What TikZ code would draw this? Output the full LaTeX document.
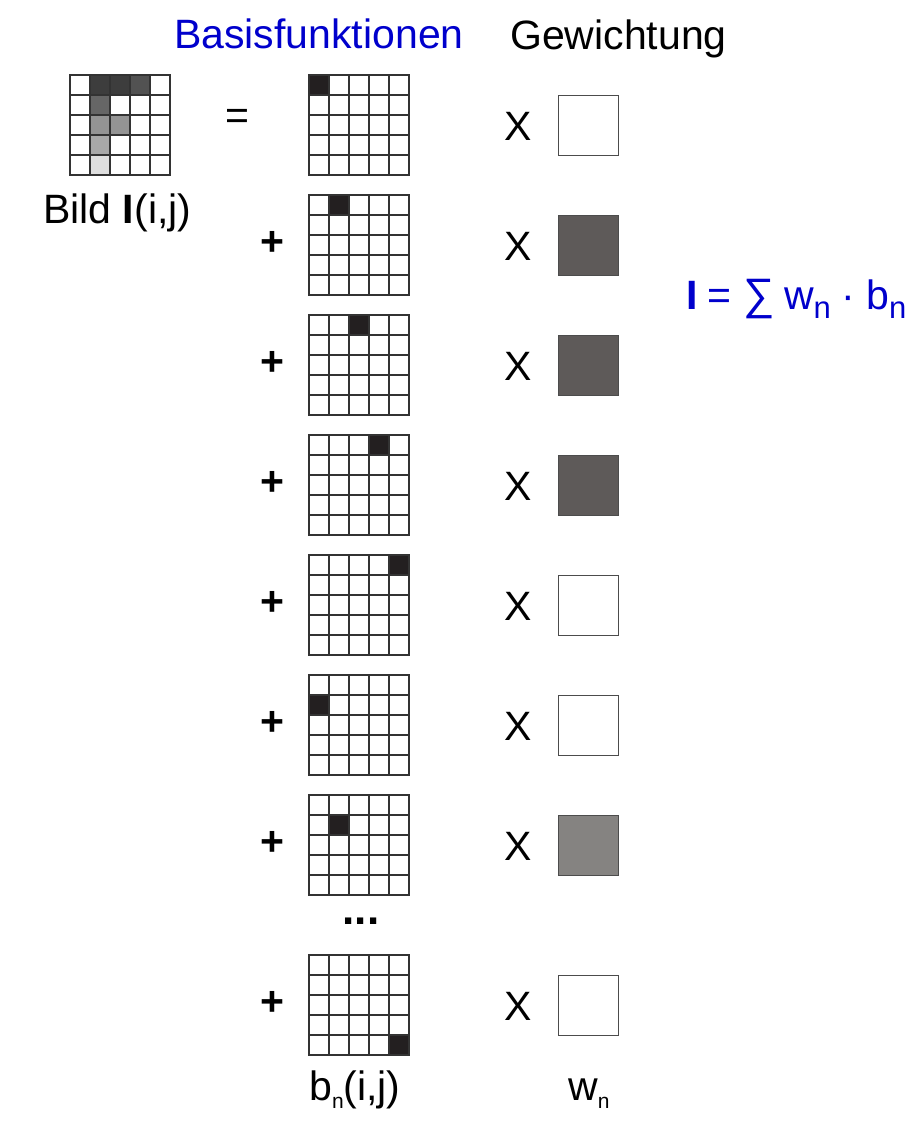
\documentclass[tikz,border=0pt]{standalone}
\usepackage{fontspec}
\setmainfont{Liberation Sans}
\usetikzlibrary{calc}

\definecolor{basisblue}{RGB}{0,0,204}
\definecolor{cellblack}{RGB}{35,31,32}
\definecolor{weightdark}{RGB}{94,90,89}
\definecolor{weightmid}{RGB}{133,131,129}

\tikzset{
	cell/.style={draw=black!80,line width=1.3pt},
	weight/.style={draw=black!70,line width=1pt},
	label/.style={inner sep=0pt,font=\fontsize{41}{49}\selectfont},
	sign/.style={inner sep=0pt,font=\fontsize{41}{49}\selectfont}
}

\begin{document}
\begin{tikzpicture}[x=1pt,y=-1pt]
	\useasboundingbox (0,0) rectangle (920,1128);
	
	%headings
	\node[label,anchor=base west,text=basisblue] (basis) at (174,48) {Basisfunktionen};
	\node[label,anchor=base west] (gewicht) at (510,49) {Gewichtung};
	
	%image I(i,j)
	\fill[black!76] (90,75) rectangle ++(40,20);
	\fill[black!68] (130,75) rectangle ++(20,20);
	\fill[black!60] (90,95) rectangle ++(20,20);
	\fill[black!42] (90,115) rectangle ++(40,20);
	\fill[black!34] (90,135) rectangle ++(20,20);
	\fill[black!13] (90,155) rectangle ++(20,20);
	\foreach \i in {0,...,4}
		\foreach \j in {0,...,4}
			\draw[cell] (70+20*\i,75+20*\j) rectangle ++(20,20);
	\node[label,anchor=base west] (bild) at (43,223) {Bild \textbf{I}(i,j)};
	\node[sign] (gleich) at (237,119) {=};
	
	%basis functions and weights
	\foreach \t/\r/\c/\w in {75/0/0/white,195/0/1/weightdark,315/0/2/weightdark,435/0/3/weightdark,
		555/0/4/white,675/1/0/white,795/1/1/weightmid,955/4/4/white}
	{
		\fill[cellblack] (309+20*\c,\t+20*\r) rectangle ++(20,20);
		\foreach \i in {0,...,4}
			\foreach \j in {0,...,4}
				\draw[cell] (309+20*\i,\t+20*\j) rectangle ++(20,20);
		\node[sign,anchor=base] (mal-\t) at (518,\t+65) {X};
		\filldraw[weight,fill=\w] (558,\t+20) rectangle ++(60,60);
	}
	\foreach \t in {195,315,435,555,675,795,955}
		\node[sign] (plus-\t) at (272,\t+48) {\textbf{+}};
	
	%dots and lower labels
	\node[inner sep=0pt,font=\fontsize{44}{50}\selectfont\bfseries] (dots) at (361,921) {...};
	\node[label,anchor=base west] (bn) at (309,1100) {b\raisebox{-8pt}{\fontsize{21}{21}\selectfont n}(i,j)};
	\node[label,anchor=base west] (wn) at (568,1100) {w\raisebox{-8pt}{\fontsize{21}{21}\selectfont n}};
	
	%sum
	\node[label,anchor=base west,text=basisblue] (summe) at (686,309)
		{\textbf{I}\hspace{-1pt} = {\fontsize{44}{50}\selectfont ∑}\hspace{-2pt} w\raisebox{-9pt}{\fontsize{31}{31}\selectfont n}\hspace{-1pt} · b\raisebox{-9pt}{\fontsize{31}{31}\selectfont n}};
\end{tikzpicture}
\end{document}
